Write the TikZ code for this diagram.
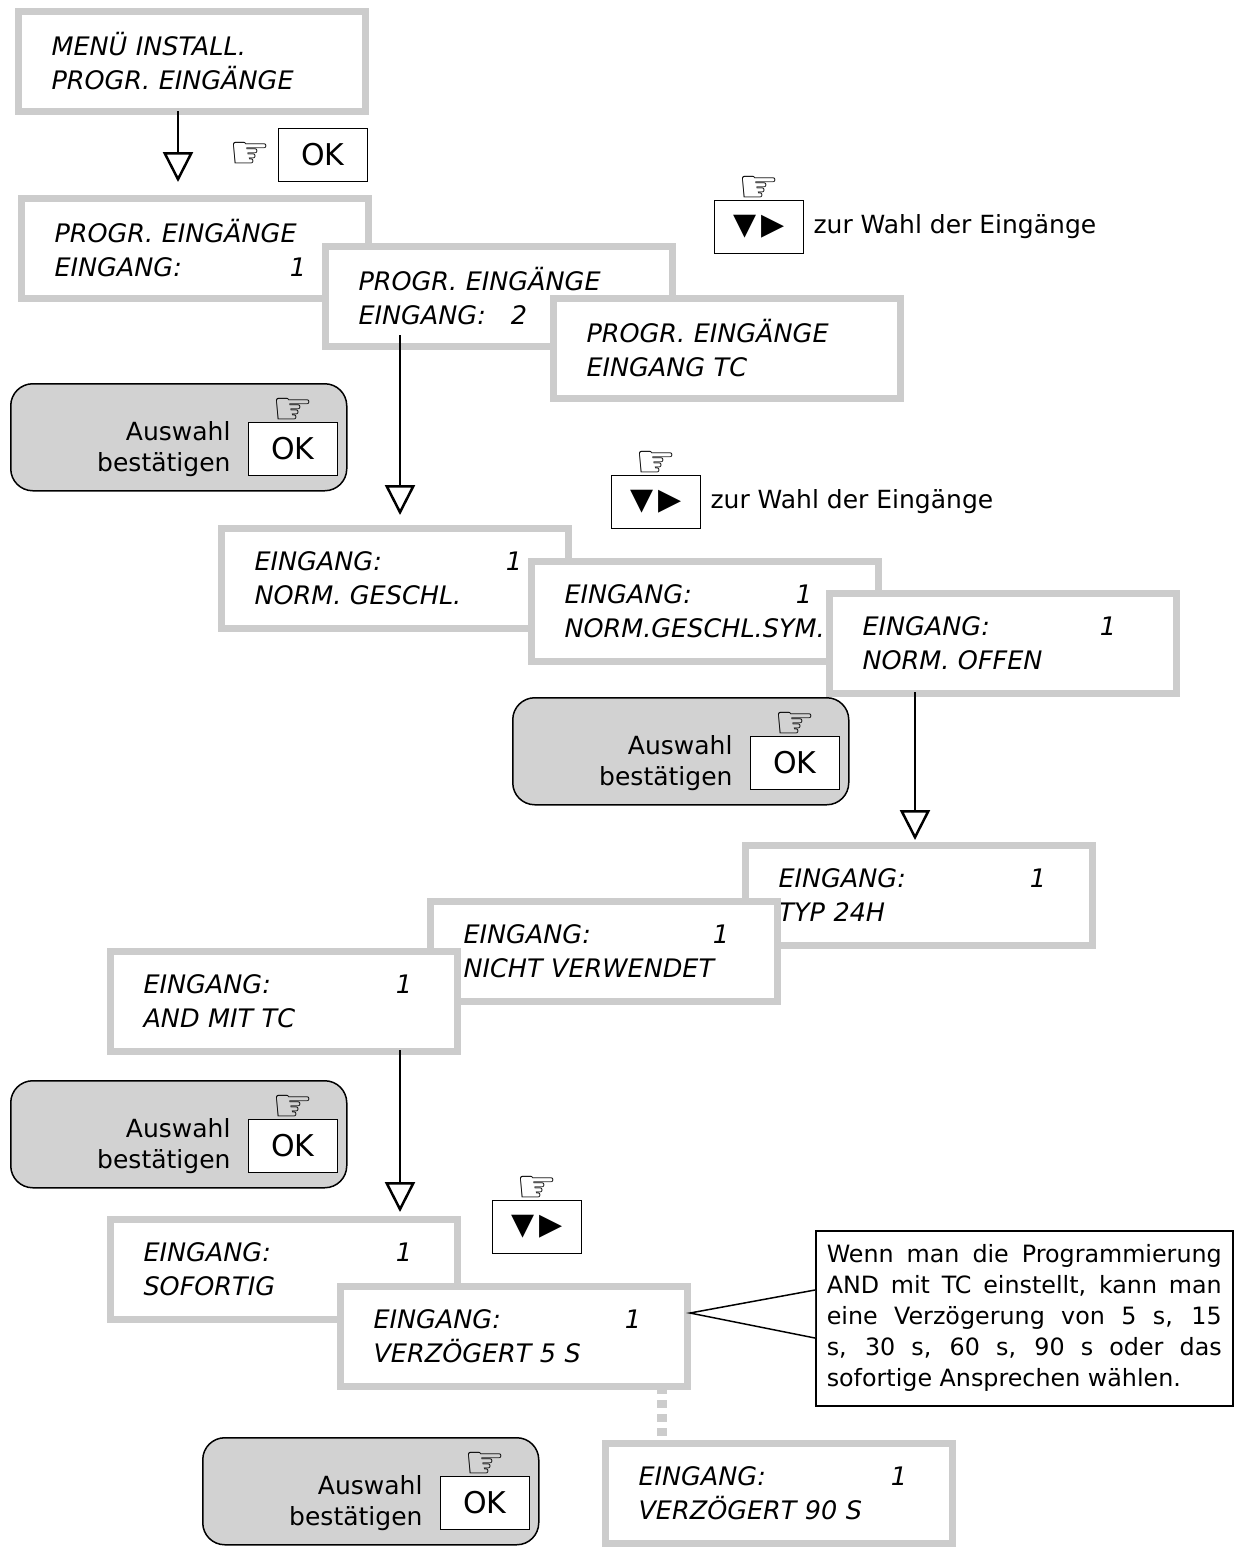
\documentclass[tikz,border=0pt]{standalone}
\usepackage{fontspec}
\setmainfont{DejaVu Sans}
\usetikzlibrary{arrows.meta, positioning}
\newcommand{\hand}{\fontsize{46}{46}\selectfont ☞}
\begin{document}
\begin{tikzpicture}[x=1pt,y=-1pt,
  lcd/.style={draw=gray!40, line width=7pt, fill=white, anchor=north west,
    minimum width=347, minimum height=100, text width=281, inner xsep=33,
    align=left, font=\fontsize{25.5}{34}\selectfont\itshape},
  panel/.style={draw=black, line width=1.5pt, fill=gray!35, rounded corners=22,
    anchor=north west, minimum width=336, minimum height=107},
  key/.style={draw=black, line width=1pt, fill=white, anchor=north west,
    minimum width=89, minimum height=53, font=\fontsize{30}{30}\selectfont},
  flow/.style={line width=2.5pt, -{Triangle[open, length=30, width=30, line width=2.5pt]}},
  hint/.style={anchor=west, font=\fontsize{25}{28}\selectfont}]
\useasboundingbox (0,0) rectangle (1246,1551);
% displays
\node[lcd] (menu) at (15,8)    {MENÜ INSTALL.\\PROGR. EINGÄNGE};
\node[lcd] (in1)  at (18,195)  {PROGR. EINGÄNGE\\EINGANG:\hspace{108pt}1};
\node[lcd] (in2)  at (322,243) {PROGR. EINGÄNGE\\EINGANG:\hspace{25pt}2};
\node[lcd] (intc) at (550,295) {PROGR. EINGÄNGE\\EINGANG TC};
\node[lcd] (nc)   at (218,525) {EINGANG:\hspace{124pt}1\\NORM. GESCHL.};
\node[lcd] (ncs)  at (528,558) {EINGANG:\hspace{104pt}1\\NORM.GESCHL.SYM.};
\node[lcd] (no)   at (826,590) {EINGANG:\hspace{110pt}1\\NORM. OFFEN};
\node[lcd] (t24)  at (742,842) {EINGANG:\hspace{124pt}1\\TYP 24H};
\node[lcd] (nv)   at (427,898) {EINGANG:\hspace{122pt}1\\NICHT VERWENDET};
\node[lcd] (and)  at (107,948) {EINGANG:\hspace{125pt}1\\AND MIT TC};
\node[lcd] (sof)  at (107,1216){EINGANG:\hspace{125pt}1\\SOFORTIG};
\node[lcd] (v5)   at (337,1283){EINGANG:\hspace{124pt}1\\VERZÖGERT 5 S};
\node[lcd] (v90)  at (602,1440){EINGANG:\hspace{125pt}1\\VERZÖGERT 90 S};
% arrows
\draw[flow] (178,111) -- (178,182);
\draw[flow] (400,335) -- (400,515);
\draw[flow] (915,692) -- (915,840);
\draw[flow] (400,1050) -- (400,1212);
\draw[gray!40, line width=10pt, dash pattern=on 8pt off 6pt] (662,1386) -- (662,1437);
% first OK
\node[key] (ok0) at (278,128) {OK};
\node[left=4pt of ok0] (h0) {\hand};
% panels
\foreach \n/\x/\y in {p1/10/383, p2/512/697, p3/10/1080, p4/202/1437}{
  \node[panel] (\n) at (\x,\y) {};
  \node[key] (\n ok) at (\x+238,\y+39) {OK};
  \node[above=-6pt of \n ok] (\n h) {\hand};
  \node[left=14pt of \n ok, align=right, font=\fontsize{25}{31}\selectfont] (\n t) {Auswahl\\bestätigen};
}
% arrow keys
\node[key] (k1) at (714,200) {▼\,▶};
\node[above=-6pt of k1] (k1h) {\hand};
\node[hint, right=6pt of k1] (k1t) {zur Wahl der Eingänge};
\node[key] (k2) at (611,475) {▼\,▶};
\node[above=-6pt of k2] (k2h) {\hand};
\node[hint, right=6pt of k2] (k2t) {zur Wahl der Eingänge};
\node[key] (k3) at (492,1200) {▼\,▶};
\node[above=-6pt of k3] (k3h) {\hand};
% note
\node[draw, line width=1.5pt, fill=white, anchor=north west, text width=395, inner sep=11,
  minimum height=175, align=justify, font=\fontsize{23.8}{31}\selectfont] (note) at (815,1230)
  {Wenn man die Programmierung AND mit TC einstellt, kann man eine Verzögerung von 5 s, 15 s, 30 s, 60 s, 90 s oder das\linebreak sofortige Ansprechen wählen.};
\coordinate (tip) at (690,1313);
\draw[line width=1.5pt, fill=white] (note.west |- 0,1290) -- (tip) -- (note.west |- 0,1338);
\end{tikzpicture}
\end{document}
